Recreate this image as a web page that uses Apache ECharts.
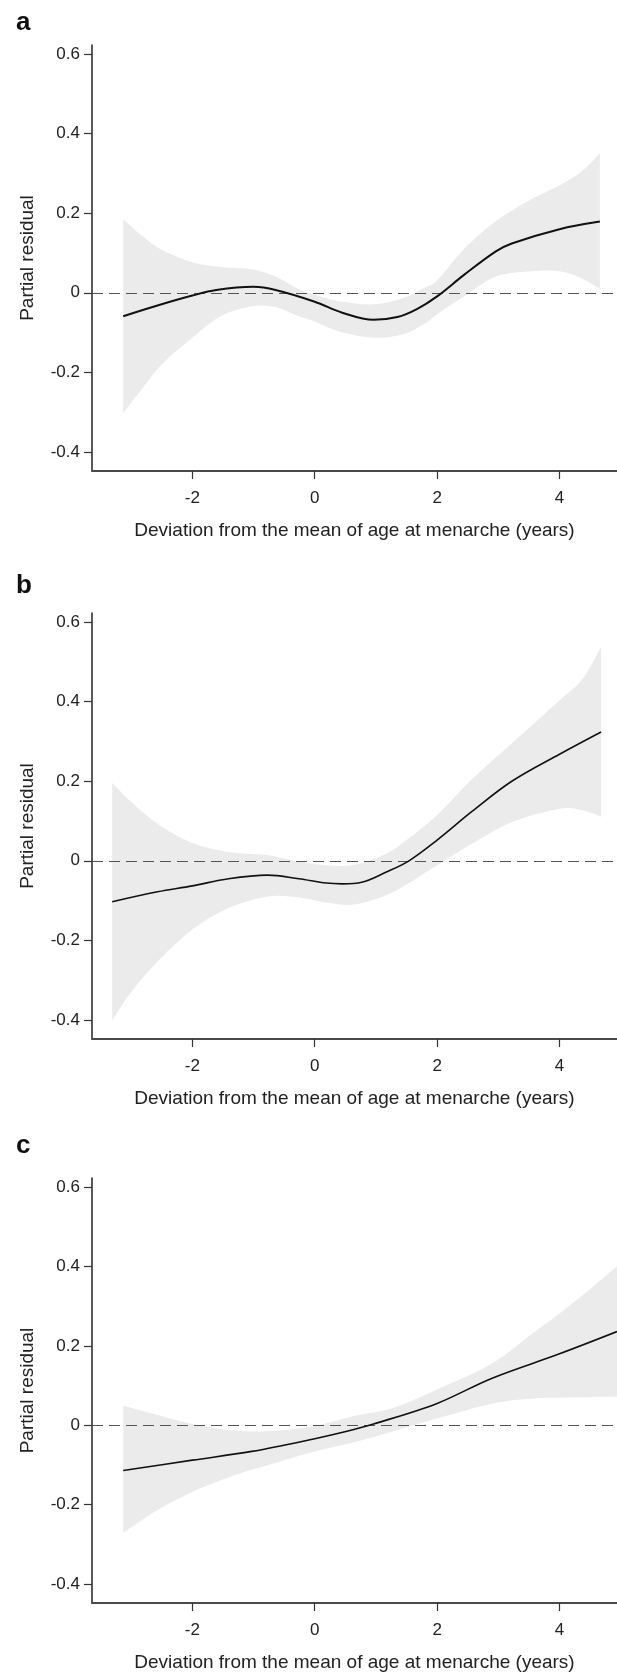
<!DOCTYPE html>
<html>
<head>
<meta charset="utf-8">
<script src="https://cdn.jsdelivr.net/npm/echarts@6/dist/echarts.min.js"></script>
<style>
  html, body { margin: 0; padding: 0; background: #fff; }
  #chart { width: 617px; height: 1674px; }
</style>
</head>
<body>
<div id="chart"></div>
<script>
// ---- tick labels ----
const xTicks = [-2, 0, 2, 4];
const yTicks = [-0.4, -0.2, 0, 0.2, 0.4, 0.6];
const panelLabels = ['a', 'b', 'c'];
const xTitle = 'Deviation from the mean of age at menarche (years)';
const yTitle = 'Partial residual';

// ---- panel a ----
const aBandX  = [-3.13, -2.83, -2.5, -2.0, -1.54, -1.03, -0.64, -0.26, 0.0, 0.4, 0.96, 1.45, 1.8, 2.0, 2.44, 2.96, 3.54, 4.0, 4.37, 4.66];
const aUpper  = [0.185, 0.144, 0.108, 0.077, 0.065, 0.059, 0.041, 0.009, -0.005, -0.021, -0.029, -0.013, 0.013, 0.031, 0.11, 0.18, 0.235, 0.27, 0.306, 0.351];
const aLower  = [-0.302, -0.243, -0.18, -0.113, -0.059, -0.034, -0.036, -0.059, -0.072, -0.097, -0.113, -0.104, -0.077, -0.054, -0.009, 0.041, 0.054, 0.054, 0.036, 0.009];
const aFitX   = [-3.13, -2.57, -2.0, -1.61, -1.0, -0.64, 0.0, 0.45, 0.96, 1.35, 1.67, 2.0, 2.44, 2.96, 3.22, 4.0, 4.66];
const aFit    = [-0.059, -0.032, -0.007, 0.007, 0.015, 0.007, -0.0225, -0.05, -0.068, -0.061, -0.041, -0.009, 0.045, 0.104, 0.124, 0.160, 0.179];

// ---- panel b ----
const bBandX  = [-3.31, -3.02, -2.57, -2.0, -1.41, -0.77, -0.26, 0.19, 0.64, 1.16, 1.54, 2.0, 2.57, 3.22, 4.0, 4.37, 4.68];
const bUpper  = [0.196, 0.151, 0.093, 0.045, 0.022, 0.014, -0.002, -0.011, -0.01, 0.017, 0.057, 0.115, 0.205, 0.295, 0.403, 0.456, 0.537];
const bLower  = [-0.402, -0.334, -0.253, -0.173, -0.119, -0.09, -0.092, -0.105, -0.11, -0.087, -0.056, -0.011, 0.043, 0.097, 0.131, 0.127, 0.111];
const bFitX   = [-3.31, -2.57, -2.0, -1.41, -0.77, -0.26, 0.19, 0.45, 0.77, 1.16, 1.54, 2.0, 2.57, 3.22, 4.0, 4.68];
const bFit    = [-0.103, -0.078, -0.063, -0.045, -0.036, -0.045, -0.056, -0.058, -0.054, -0.029, 0.0, 0.052, 0.124, 0.2, 0.268, 0.324];

// ---- panel c ----
const cBandX  = [-3.13, -2.57, -2.0, -1.29, -0.64, 0.0, 0.64, 1.29, 2.0, 2.89, 3.54, 4.18, 4.94];
const cUpper  = [0.049, 0.026, 0.003, -0.014, -0.014, -0.002, 0.023, 0.044, 0.09, 0.155, 0.229, 0.303, 0.40];
const cLower  = [-0.271, -0.214, -0.168, -0.125, -0.095, -0.066, -0.043, -0.015, 0.017, 0.054, 0.067, 0.07, 0.072];
const cFitX   = [-3.13, -2.0, -1.03, 0.0, 0.51, 0.96, 2.0, 2.89, 4.0, 4.94];
const cFit    = [-0.114, -0.088, -0.066, -0.034, -0.016, 0.003, 0.055, 0.118, 0.18, 0.236];

const panels = [
  { bandX: aBandX, upper: aUpper, lower: aLower, fitX: aFitX, fit: aFit, top: 45, height: 426, labelY: 22, lw: 2 },
  { bandX: bBandX, upper: bUpper, lower: bLower, fitX: bFitX, fit: bFit, top: 613, height: 426, labelY: 585, lw: 1.6 },
  { bandX: cBandX, upper: cUpper, lower: cLower, fitX: cFitX, fit: cFit, top: 1178, height: 425, labelY: 1145, lw: 1.6 }
];

// Catmull-Rom subdivision in pixel space (rendering only)
function smoothPath(pts, steps) {
  if (pts.length < 3) return pts.slice();
  const out = [];
  for (let i = 0; i < pts.length - 1; i++) {
    const p0 = pts[Math.max(0, i - 1)], p1 = pts[i], p2 = pts[i + 1], p3 = pts[Math.min(pts.length - 1, i + 2)];
    for (let s = 0; s < steps; s++) {
      const t = s / steps, t2 = t * t, t3 = t2 * t;
      const x = 0.5 * ((2 * p1[0]) + (-p0[0] + p2[0]) * t + (2 * p0[0] - 5 * p1[0] + 4 * p2[0] - p3[0]) * t2 + (-p0[0] + 3 * p1[0] - 3 * p2[0] + p3[0]) * t3);
      const y = 0.5 * ((2 * p1[1]) + (-p0[1] + p2[1]) * t + (2 * p0[1] - 5 * p1[1] + 4 * p2[1] - p3[1]) * t2 + (-p0[1] + 3 * p1[1] - 3 * p2[1] + p3[1]) * t3);
      out.push([x, y]);
    }
  }
  out.push(pts[pts.length - 1]);
  return out;
}

const FONT = '"Liberation Sans", Arial, Helvetica, sans-serif';
const grids = [], xAxes = [], yAxes = [], series = [], graphics = [];

panels.forEach((p, i) => {
  grids.push({ left: 92, right: 0, top: p.top, height: p.height, containLabel: false });
  xAxes.push({
    type: 'value', gridIndex: i, min: -3.64, max: 4.94,
    axisLine: { show: true, onZero: false, lineStyle: { color: '#4a4a4a', width: 2 } },
    axisTick: { show: true, customValues: xTicks, length: 8, lineStyle: { color: '#333', width: 1.2 } },
    axisLabel: { show: true, customValues: xTicks, margin: 19, fontSize: 17, color: '#222', fontFamily: FONT },
    splitLine: { show: false },
    name: xTitle, nameLocation: 'middle', nameGap: 50,
    nameTextStyle: { fontSize: 19, color: '#222', fontFamily: FONT }
  });
  yAxes.push({
    type: 'value', gridIndex: i, min: -0.448, max: 0.623,
    axisLine: { show: true, onZero: false, lineStyle: { color: '#222', width: 1.5 } },
    axisTick: { show: true, customValues: yTicks, length: 8, lineStyle: { color: '#333', width: 1.2 } },
    axisLabel: { show: true, customValues: yTicks, margin: 12, fontSize: 17, color: '#222', fontFamily: FONT,
                 formatter: v => String(Math.round(v * 10) / 10) },
    splitLine: { show: false },
    name: yTitle, nameLocation: 'middle', nameGap: 55, nameRotate: 90,
    nameTextStyle: { fontSize: 19, color: '#222', fontFamily: FONT }
  });
  series.push({
    type: 'custom', xAxisIndex: i, yAxisIndex: i, silent: true, z: 1, clip: true,
    data: [[p.bandX[0], p.lower[0]]],
    renderItem: (params, api) => {
      const up = smoothPath(p.bandX.map((x, k) => api.coord([x, p.upper[k]])), 10);
      const lo = smoothPath(p.bandX.map((x, k) => api.coord([x, p.lower[k]])), 10);
      return {
        type: 'polygon',
        shape: { points: up.concat(lo.reverse()) },
        style: { fill: '#ebebeb', stroke: null }
      };
    }
  });
  series.push({
    type: 'line', xAxisIndex: i, yAxisIndex: i, smooth: 0.35, symbol: 'none', z: 3,
    lineStyle: { color: '#111', width: p.lw },
    data: p.fitX.map((x, k) => [x, p.fit[k]]),
    markLine: {
      silent: true, symbol: 'none', label: { show: false }, z: 2,
      lineStyle: { color: '#555', type: [11, 6], width: 1.2 },
      data: [{ yAxis: 0 }]
    }
  });
  graphics.push({
    type: 'text', left: 16, top: p.labelY - 12,
    style: { text: panelLabels[i], font: 'bold 26px ' + FONT, fill: '#111' }
  });
});

const chart = echarts.init(document.getElementById('chart'), null, { renderer: 'canvas' });
chart.setOption({
  animation: false,
  backgroundColor: '#fff',
  grid: grids, xAxis: xAxes, yAxis: yAxes, series: series, graphic: graphics
});
</script>
</body>
</html>
